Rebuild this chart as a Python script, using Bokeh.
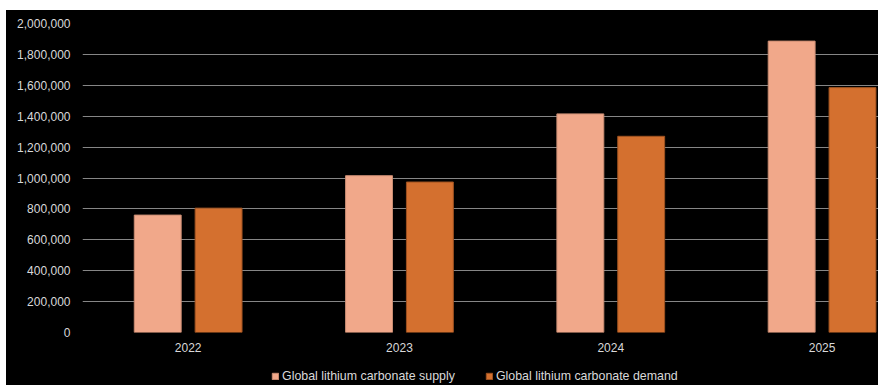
from bokeh.plotting import figure
from bokeh.layouts import column, row
from bokeh.models import (Range1d, FixedTicker, NumeralTickFormatter, Legend, LegendItem,
                          ColumnDataSource, Spacer, Grid)
from bokeh.embed import file_html
from bokeh.resources import INLINE

years = ["2022", "2023", "2024", "2025"]
supply = [760000, 1015000, 1415000, 1886000]
demand = [805000, 974000, 1270000, 1585000]
y_ticks = [0, 200000, 400000, 600000, 800000, 1000000, 1200000, 1400000, 1600000, 1800000, 2000000]
series_names = ["Global lithium carbonate supply", "Global lithium carbonate demand"]

SUPPLY_COLOR = "#F1A88A"
DEMAND_COLOR = "#D4702F"
SUPPLY_EDGE = "#C98C72"
DEMAND_EDGE = "#9E5220"
TEXT_COLOR = "#D9D9D9"
GRID_COLOR = "#868686"
FONT = "Liberation Sans"

xc = [i + 0.5 for i in range(len(years))]
src = ColumnDataSource(dict(
    xs=[x - 0.144 for x in xc],
    xd=[x + 0.144 for x in xc],
    supply=supply,
    demand=demand,
))

p = figure(width=872, height=355, output_backend="svg", toolbar_location=None,
           x_range=Range1d(0, 3.767), y_range=Range1d(0, 2000000),
           min_border_left=76, min_border_right=0, min_border_top=13, min_border_bottom=33)
p.background_fill_color = "black"
p.border_fill_color = "black"
p.outline_line_color = None

r1 = p.vbar(x="xs", top="supply", width=0.222, source=src,
            fill_color=SUPPLY_COLOR, line_color=SUPPLY_EDGE, line_width=1)
r2 = p.vbar(x="xd", top="demand", width=0.222, source=src,
            fill_color=DEMAND_COLOR, line_color=DEMAND_EDGE, line_width=1)

# grid
p.xgrid.visible = False
p.ygrid.grid_line_color = GRID_COLOR
p.ygrid.grid_line_width = 1.2
p.ygrid.level = "underlay"

# y axis
p.yaxis.ticker = FixedTicker(ticks=y_ticks)
p.yaxis.formatter = NumeralTickFormatter(format="0,0")
p.yaxis.axis_line_color = None
p.yaxis.major_tick_line_color = None
p.yaxis.minor_tick_line_color = None
p.yaxis.major_tick_in = 0
p.yaxis.major_tick_out = 0
p.yaxis.major_label_standoff = 12
p.yaxis.major_label_text_color = TEXT_COLOR
p.yaxis.major_label_text_font = FONT
p.yaxis.major_label_text_font_size = "12px"

# x axis
p.xaxis.ticker = FixedTicker(ticks=xc)
p.xaxis.major_label_overrides = {x: y for x, y in zip(xc, years)}
p.xaxis.axis_line_color = None
p.xaxis.major_tick_line_color = None
p.xaxis.minor_tick_line_color = None
p.xaxis.major_tick_in = 0
p.xaxis.major_tick_out = 0
p.xaxis.major_label_standoff = 10
p.xaxis.major_label_text_color = TEXT_COLOR
p.xaxis.major_label_text_font = FONT
p.xaxis.major_label_text_font_size = "12px"

# legend strip (separate small figure so the legend is not clipped)
lg = figure(width=872, height=20, output_backend="svg", toolbar_location=None,
            x_axis_location=None, y_axis_location=None,
            x_range=Range1d(0, 1), y_range=Range1d(0, 1),
            min_border_left=0, min_border_right=0, min_border_top=0, min_border_bottom=0)
lg.background_fill_color = None
lg.border_fill_color = "black"
lg.outline_line_color = None
for g in lg.select(type=Grid):
    g.visible = False
dummy = ColumnDataSource(dict(x=[-10], top=[0]))
l1 = lg.vbar(x="x", top="top", width=0.1, source=dummy,
             fill_color=SUPPLY_COLOR, line_color=SUPPLY_EDGE)
l2 = lg.vbar(x="x", top="top", width=0.1, source=dummy,
             fill_color=DEMAND_COLOR, line_color=DEMAND_EDGE)

legend = Legend(items=[LegendItem(label=series_names[0], renderers=[l1]),
                       LegendItem(label=series_names[1], renderers=[l2])],
                orientation="horizontal", location=(189, 2))
legend.padding = 0
legend.margin = 0
legend.spacing = 30
legend.glyph_width = 8
legend.glyph_height = 8
legend.label_standoff = 3
legend.label_height = 12
legend.label_text_color = TEXT_COLOR
legend.label_text_font = FONT
legend.label_text_font_size = "12.4px"
legend.background_fill_alpha = 0
legend.border_line_color = None
lg.add_layout(legend, "center")

chart = column(p, lg, styles={"background-color": "black"})
layout = column(Spacer(height=10, width=878),
                row(Spacer(width=6, height=375), chart))
open("out.html", "w").write(file_html(layout, INLINE))
